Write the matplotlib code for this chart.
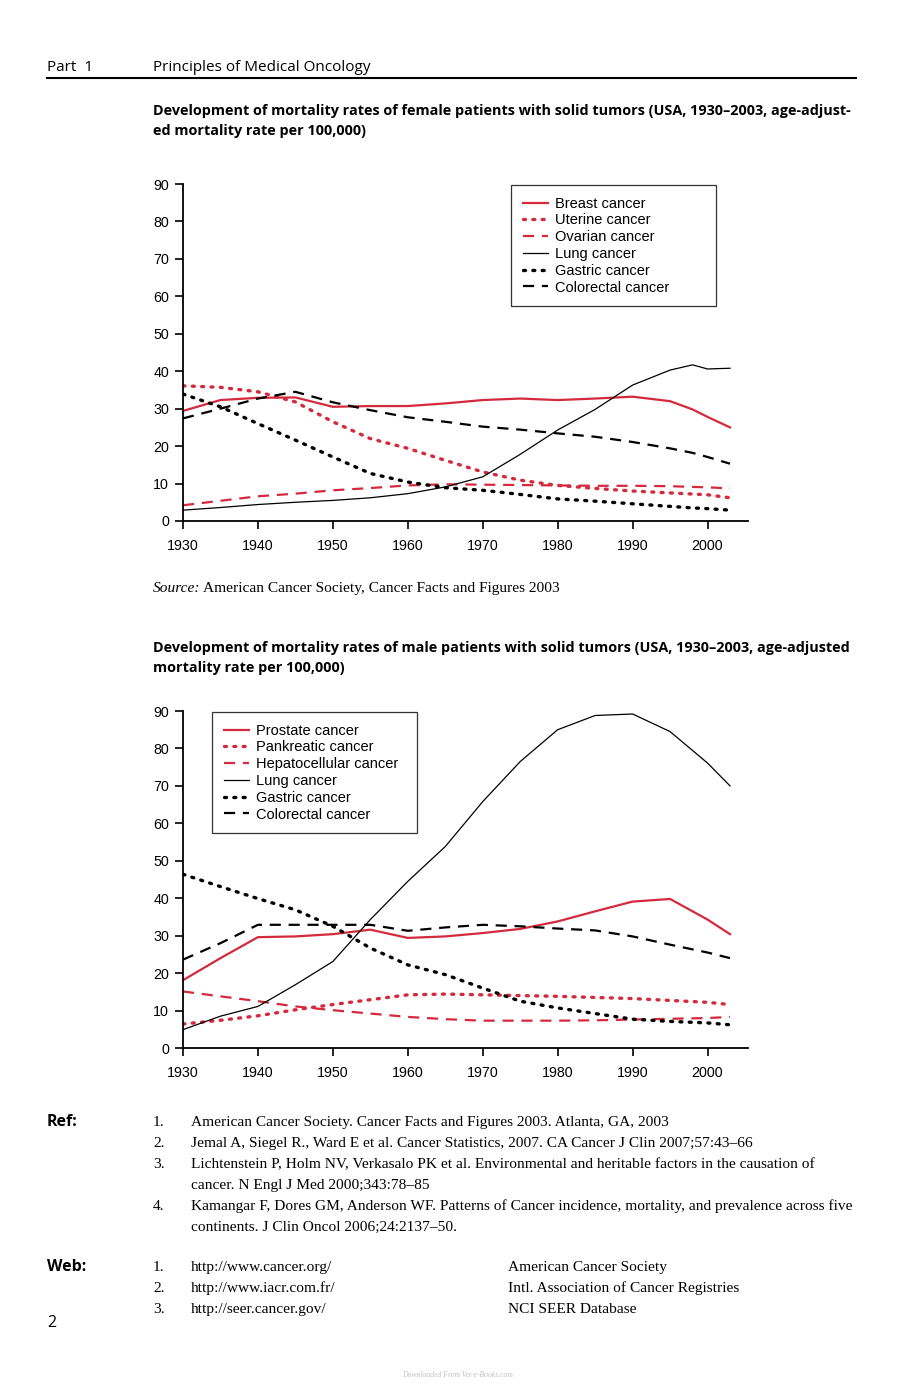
import numpy as np
import matplotlib
matplotlib.use("Agg")
import matplotlib.pyplot as plt

#### Données ####

years_f = [1930, 1935, 1940, 1945, 1950, 1955, 1960, 1965, 1970, 1975, 1980, 1985, 1990, 1995, 1998, 2000, 2003]
breast = [29.4, 32.3, 32.9, 33.0, 30.5, 30.7, 30.7, 31.4, 32.3, 32.7, 32.3, 32.7, 33.2, 32.0, 29.8, 27.8, 25.0]
uterine = [36.1, 35.7, 34.5, 31.8, 26.5, 22.0, 19.4, 16.2, 13.1, 10.9, 9.5, 8.7, 8.0, 7.5, 7.2, 7.0, 6.2]
ovarian = [4.2, 5.4, 6.6, 7.3, 8.2, 8.8, 9.5, 9.8, 9.7, 9.6, 9.5, 9.4, 9.4, 9.3, 9.1, 9.0, 8.7]
lung_f = [2.9, 3.6, 4.4, 5.0, 5.5, 6.2, 7.3, 9.1, 11.8, 17.8, 24.3, 29.8, 36.3, 40.3, 41.7, 40.6, 40.8]
gastric_f = [33.9, 30.5, 26.0, 21.6, 17.1, 12.7, 10.4, 8.9, 8.2, 7.1, 5.9, 5.3, 4.6, 3.9, 3.5, 3.3, 2.9]
colorectal_f = [27.4, 30.0, 32.7, 34.5, 31.7, 29.6, 27.7, 26.5, 25.2, 24.4, 23.4, 22.5, 21.1, 19.4, 18.2, 17.1, 15.3]

years_m = [1930, 1935, 1940, 1945, 1950, 1955, 1960, 1965, 1970, 1975, 1980, 1985, 1990, 1995, 2000, 2003]
prostate = [18.1, 24.0, 29.6, 29.8, 30.4, 31.6, 29.4, 29.8, 30.7, 31.8, 33.8, 36.5, 39.1, 39.8, 34.3, 30.4]
pancreatic = [6.4, 7.4, 8.6, 10.2, 11.6, 12.9, 14.2, 14.4, 14.2, 14.0, 13.8, 13.5, 13.2, 12.7, 12.2, 11.6]
hepato = [15.1, 13.8, 12.5, 11.1, 10.1, 9.2, 8.3, 7.7, 7.3, 7.3, 7.3, 7.4, 7.6, 7.8, 8.0, 8.3]
lung_m = [4.9, 8.5, 11.1, 16.9, 23.1, 34.3, 44.5, 53.8, 65.8, 76.5, 85.0, 88.8, 89.2, 84.5, 76.1, 70.0]
gastric_m = [46.4, 43.1, 39.9, 36.9, 32.5, 26.7, 22.2, 19.6, 16.0, 12.5, 10.7, 9.2, 7.7, 7.1, 6.7, 6.2]
colorectal_m = [23.6, 28.0, 32.9, 32.9, 32.9, 32.9, 31.3, 32.2, 32.9, 32.5, 31.9, 31.4, 29.8, 27.6, 25.5, 24.0]

xticks = [1930, 1940, 1950, 1960, 1970, 1980, 1990, 2000]
yticks = [0, 10, 20, 30, 40, 50, 60, 70, 80, 90]

RED = '#d42a3c'
DOT = (0, (0.6, 2.2))
DASH = (0, (5, 3.5))
SERIF = 11.1
TITRE = 10.4

W, H = 916, 1388
fig = plt.figure(figsize=(W / 100, H / 100), dpi=100)

def fx(px):
    return px / W

def fy(py):
    return 1 - py / H

def txt(x, y, s, **kw):
    fig.text(fx(x), fy(y), s, va='baseline', **kw)

def graphe(top, bottom, series, leg_x0, leg_x1, leg_top):
    ax = fig.add_axes([fx(183), fy(bottom), fx(748) - fx(183), fy(top) - fy(bottom)])
    for ys, xs, lab, col, ls, lw in series:
        ax.plot(xs, ys, color=col, linestyle=ls, lw=lw, label=lab,
                dash_capstyle='round' if ls == DOT else 'butt', solid_joinstyle='round')
    ax.set_xlim(1930, 2005.4)
    ax.set_ylim(0, 90)
    ax.set_xticks(xticks)
    ax.set_yticks(yticks)
    for s in ['top', 'right']:
        ax.spines[s].set_visible(False)
    ax.spines['left'].set_linewidth(1.3)
    ax.spines['bottom'].set_linewidth(1.3)
    ax.tick_params(direction='out', length=6, width=1.2, labelsize=10.3, pad=4)
    for lab in ax.get_xticklabels() + ax.get_yticklabels():
        lab.set_family('Liberation Sans')
    ax.tick_params(axis='x', pad=7)
    # légende dans un cadre de largeur fixe (mode expand)
    bx = (fx(leg_x0), fy(leg_top) - 0.2, fx(leg_x1) - fx(leg_x0), 0.2)
    leg = fig.legend(*ax.get_legend_handles_labels(), loc='upper left', bbox_to_anchor=bx,
                     bbox_transform=fig.transFigure, mode='expand', frameon=True, fancybox=False,
                     prop={'family': 'Liberation Sans', 'size': 10.5}, handlelength=1.75,
                     handletextpad=0.5, labelspacing=0.19, borderpad=0.8, borderaxespad=0)
    leg.get_frame().set_edgecolor('black')
    leg.get_frame().set_linewidth(0.9)
    return ax

# en-tête
txt(47, 71, 'Part  1', family='Open Sans', fontsize=11)
txt(153, 71, 'Principles of Medical Oncology', family='Open Sans', fontsize=11)
fig.add_artist(plt.Line2D([fx(47), fx(856)], [fy(78), fy(78)], color='black', lw=1.5))

txt(153, 115, 'Development of mortality rates of female patients with solid tumors (USA, 1930–2003, age-adjust-',
    family='Open Sans', fontweight='bold', fontsize=TITRE)
txt(153, 135, 'ed mortality rate per 100,000)', family='Open Sans', fontweight='bold', fontsize=TITRE)

femmes = [
    (breast, years_f, 'Breast cancer', RED, '-', 1.6),
    (uterine, years_f, 'Uterine cancer', RED, DOT, 2.4),
    (ovarian, years_f, 'Ovarian cancer', RED, DASH, 1.6),
    (lung_f, years_f, 'Lung cancer', 'black', '-', 0.9),
    (gastric_f, years_f, 'Gastric cancer', 'black', DOT, 2.4),
    (colorectal_f, years_f, 'Colorectal cancer', 'black', DASH, 1.6),
]
graphe(184, 521, femmes, 511, 716, 185)

txt(153, 592, 'Source:', family='Liberation Serif', style='italic', fontsize=SERIF)
txt(203, 592, 'American Cancer Society, Cancer Facts and Figures 2003', family='Liberation Serif', fontsize=SERIF)

txt(153, 652, 'Development of mortality rates of male patients with solid tumors (USA, 1930–2003, age-adjusted',
    family='Open Sans', fontweight='bold', fontsize=TITRE)
txt(153, 672, 'mortality rate per 100,000)', family='Open Sans', fontweight='bold', fontsize=TITRE)

hommes = [
    (prostate, years_m, 'Prostate cancer', RED, '-', 1.6),
    (pancreatic, years_m, 'Pankreatic cancer', RED, DOT, 2.4),
    (hepato, years_m, 'Hepatocellular cancer', RED, DASH, 1.6),
    (lung_m, years_m, 'Lung cancer', 'black', '-', 0.9),
    (gastric_m, years_m, 'Gastric cancer', 'black', DOT, 2.4),
    (colorectal_m, years_m, 'Colorectal cancer', 'black', DASH, 1.6),
]
graphe(711, 1048, hommes, 212, 417, 712)

# références
refs = [
    ('1.', ['American Cancer Society. Cancer Facts and Figures 2003. Atlanta, GA, 2003']),
    ('2.', ['Jemal A, Siegel R., Ward E et al. Cancer Statistics, 2007. CA Cancer J Clin 2007;57:43–66']),
    ('3.', ['Lichtenstein P, Holm NV, Verkasalo PK et al. Environmental and heritable factors in the causation of',
            'cancer. N Engl J Med 2000;343:78–85']),
    ('4.', ['Kamangar F, Dores GM, Anderson WF. Patterns of Cancer incidence, mortality, and prevalence across five',
            'continents. J Clin Oncol 2006;24:2137–50.']),
]
txt(47, 1126, 'Ref:', family='Open Sans', fontweight='bold', fontsize=11.5)
y = 1126
for num, lignes in refs:
    txt(153, y, num, family='Liberation Serif', fontsize=SERIF)
    for l in lignes:
        txt(191, y, l, family='Liberation Serif', fontsize=SERIF)
        y += 21

web = [('1.', 'http://www.cancer.org/', 'American Cancer Society'),
       ('2.', 'http://www.iacr.com.fr/', 'Intl. Association of Cancer Registries'),
       ('3.', 'http://seer.cancer.gov/', 'NCI SEER Database')]
txt(47, 1271, 'Web:', family='Open Sans', fontweight='bold', fontsize=11.5)
for i, (num, url, nom) in enumerate(web):
    yy = 1271 + 21 * i
    txt(153, yy, num, family='Liberation Serif', fontsize=SERIF)
    txt(191, yy, url, family='Liberation Serif', fontsize=SERIF)
    txt(508, yy, nom, family='Liberation Serif', fontsize=SERIF)

txt(47, 1327, '2', family='Open Sans', fontsize=11.5)
fig.text(0.5, fy(1377), 'Downloaded From Vet-e-Books.com', ha='center', va='baseline',
         family='Liberation Serif', style='italic', fontsize=5.5, color='#c0c0c0')

fig.savefig('out.png', dpi=100)
